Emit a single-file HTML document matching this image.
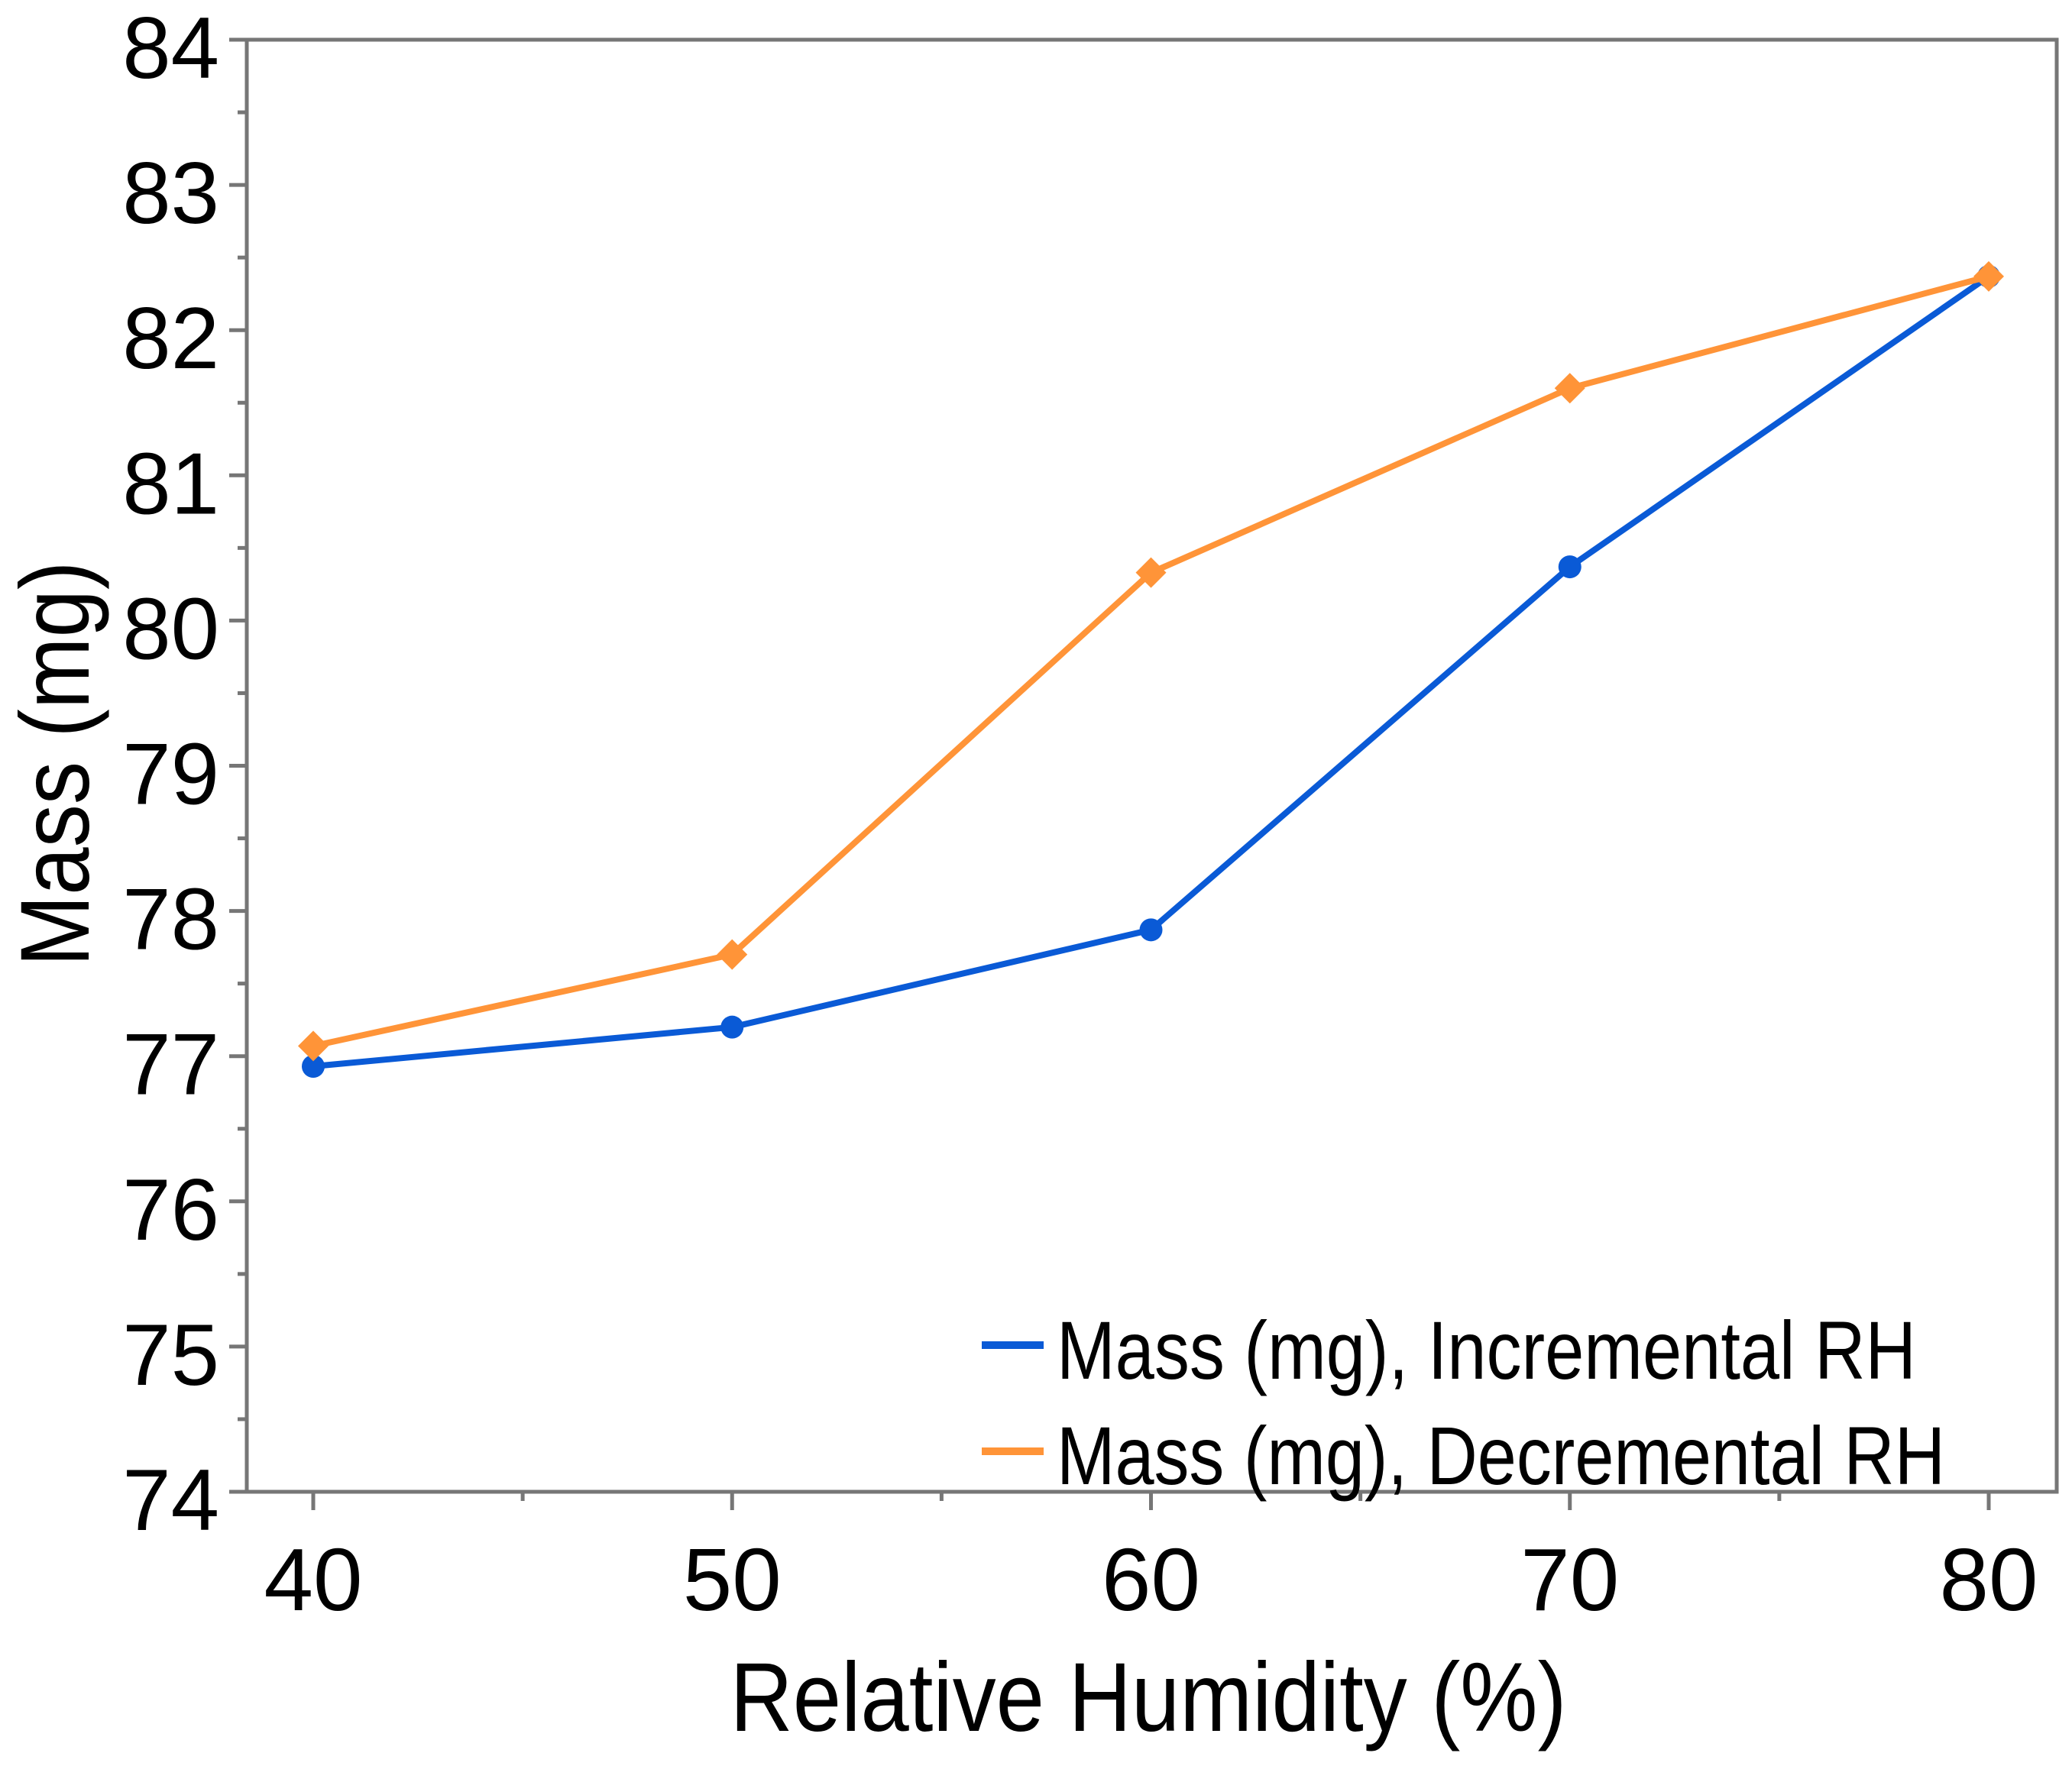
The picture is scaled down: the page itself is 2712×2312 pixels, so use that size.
<!DOCTYPE html>
<html><head><meta charset="utf-8"><style>
html,body{margin:0;padding:0;background:#fff;}
svg{display:block;font-family:"Liberation Sans",sans-serif;}
</style></head><body>
<svg id="chart" width="2712" height="2312" viewBox="0 0 2712 2312" xmlns="http://www.w3.org/2000/svg">
<rect x="323" y="52" width="2369" height="1901" fill="#fff" stroke="#767676" stroke-width="5"/>
<g id="axes"></g>
<g id="series"></g>
<text x="1503" y="2266" font-size="128" text-anchor="middle" textLength="1095" lengthAdjust="spacingAndGlyphs">Relative Humidity (%)</text>
<text transform="translate(116,1000) rotate(-90)" font-size="128" text-anchor="middle" textLength="531" lengthAdjust="spacingAndGlyphs">Mass (mg)</text>
<g>
<line x1="1285" y1="1761" x2="1366" y2="1761" stroke="#0a5ad6" stroke-width="10"/>
<text x="1383" y="1805" font-size="108" textLength="1125" lengthAdjust="spacingAndGlyphs">Mass (mg), Incremental RH</text>
<line x1="1285" y1="1900" x2="1366" y2="1900" stroke="#ff9438" stroke-width="10"/>
<text x="1383" y="1943" font-size="108" textLength="1163" lengthAdjust="spacingAndGlyphs">Mass (mg), Decremental RH</text>
</g>
</svg>
<script>
const xCats = [40, 50, 60, 70, 80];
const incremental = [76.93, 77.2, 77.87, 80.37, 82.37];
const decremental = [77.07, 77.7, 80.33, 81.6, 82.37];
const yTicks = [74, 75, 76, 77, 78, 79, 80, 81, 82, 83, 84];
const xTicks = [40, 50, 60, 70, 80];

const NS = "http://www.w3.org/2000/svg";
function xS(v){ return 410 + (v - 40) * (2603 - 410) / 40; }
function yS(v){ return 1953 - (v - 74) * (1953 - 52) / 10; }
function mk(tag, attrs, parent){ const e = document.createElementNS(NS, tag); for (const k in attrs) e.setAttribute(k, attrs[k]); parent.appendChild(e); return e; }
const axes = document.getElementById('axes');
const series = document.getElementById('series');

yTicks.forEach((t, i) => {
  const y = yS(t);
  const tk = mk('line', {x1: 300, y1: y, x2: 323, y2: y, stroke: '#767676', 'stroke-width': 5}, axes);
  
  
  const lb = mk('text', {x: 287, y: y + 50, 'font-size': 114, 'text-anchor': 'end'}, axes);
  lb.textContent = String(t);
  
  
  if (i < yTicks.length - 1) {
    const ym = yS(t + 0.5);
    const mn = mk('line', {x1: 311, y1: ym, x2: 323, y2: ym, stroke: '#767676', 'stroke-width': 5}, axes);
    
    
  }
});
xTicks.forEach((t, i) => {
  const x = xS(t);
  const tk = mk('line', {x1: x, y1: 1953, x2: x, y2: 1977, stroke: '#767676', 'stroke-width': 5}, axes);
  
  
  const lb = mk('text', {x: x, y: 2108, 'font-size': 116, 'text-anchor': 'middle'}, axes);
  lb.textContent = String(t);
  
  
  if (i < xTicks.length - 1) {
    const xm = xS(t + 5);
    const mn = mk('line', {x1: xm, y1: 1953, x2: xm, y2: 1965, stroke: '#767676', 'stroke-width': 5}, axes);
    
    
  }
});

function drawSeries(vals, color, marker, name){
  const pts = vals.map((v, i) => xS(xCats[i]) + ',' + yS(v)).join(' ');
  const pl = mk('polyline', {points: pts, fill: 'none', stroke: color, 'stroke-width': 8, 'stroke-linejoin': 'round'}, series);
  
  
  vals.forEach((v, i) => {
    const cx = xS(xCats[i]), cy = yS(v);
    let m;
    if (marker === 'circle') m = mk('circle', {cx: cx, cy: cy, r: 15, fill: color}, series);
    else m = mk('polygon', {points: `${cx},${cy-20} ${cx+20},${cy} ${cx},${cy+20} ${cx-20},${cy}`, fill: color}, series);
    
    
  });
}
drawSeries(incremental, '#0a5ad6', 'circle', 'incremental');
drawSeries(decremental, '#ff9438', 'diamond', 'decremental');
</script>
</body></html>
